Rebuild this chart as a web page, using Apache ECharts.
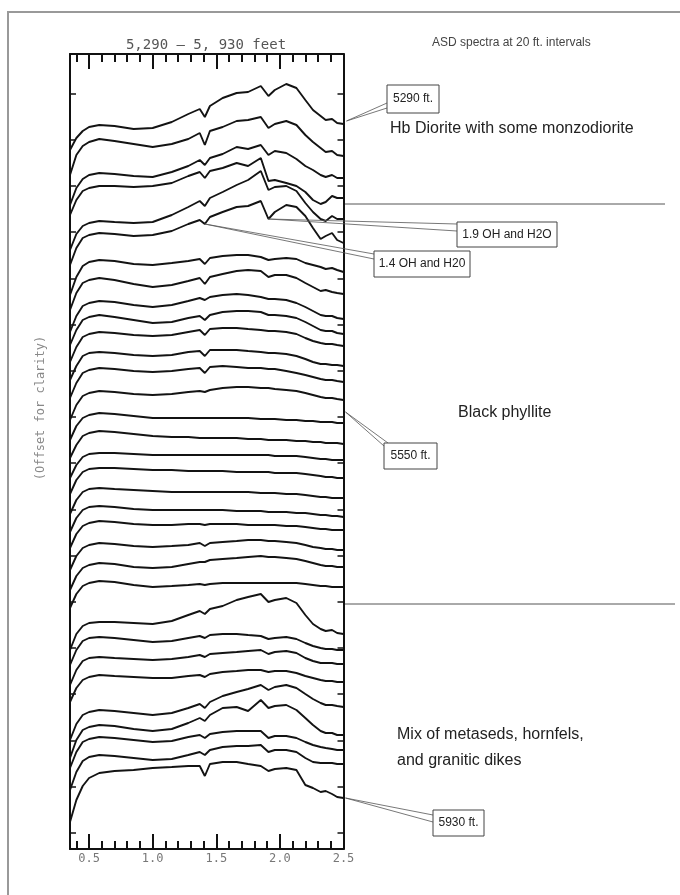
<!DOCTYPE html>
<html><head><meta charset="utf-8">
<script src="https://cdn.jsdelivr.net/npm/echarts@6/dist/echarts.min.js"></script>
<style>html,body{margin:0;padding:0;background:#fff}#c{width:680px;height:895px}</style>
</head><body><div id="c"></div>
<script>
// Wavelength (micrometres) at which each spectrum was read
const wavelengths = [0.35,0.40,0.45,0.50,0.58,0.70,0.85,1.00,1.15,1.28,1.37,1.41,1.45,1.55,1.66,1.75,1.85,1.91,1.96,2.05,2.13,2.20,2.26,2.32,2.36,2.41,2.45,2.50];
const xMajorTicks = [0.5,1.0,1.5,2.0,2.5];
const xMinorTicks = [0.4,0.6,0.7,0.8,0.9,1.1,1.2,1.3,1.4,1.6,1.7,1.8,1.9,2.1,2.2,2.3,2.4];
const yTicks = [16.3,62.5,108.7,154.9,201.1,247.3,293.5,339.7,385.9,432.1,478.3,524.5,570.7,616.9,663.1,709.3,755.5];
const depthsFt = [5290,5310,5330,5350,5370,5390,5410,5430,5450,5470,5490,5510,5530,5550,5570,5590,5610,5630,5650,5670,5690,5710,5730,5750,5770,5790,5810,5830,5850,5870,5890,5910,5930];

// Offset spectra (arbitrary offset units), one per depth
const d5290 = [699,711,718,722,724,723,720,721,727,735,740,732,743,751,756,757,763,753,759,765,761,749,739,733,729,730,726,725];
const d5310 = [674,694,703,707,710,708,705,702,705,710,716,704,718,722,728,729,732,721,725,728,724,714,707,701,697,698,694,693];
const d5330 = [644,661,670,674,676,675,673,672,677,683,689,684,691,695,702,700,704,694,698,696,690,683,679,674,672,674,671,671];
const d5350 = [634,649,658,661,663,663,662,663,666,673,677,671,678,681,686,683,691,668,669,666,663,657,649,645,647,653,651,651];
const d5370 = [599,615,623,626,628,627,626,627,634,642,648,643,651,657,664,669,678,659,662,663,658,646,637,630,628,633,630,630];
const d5390 = [584,601,611,614,616,615,613,614,618,625,629,625,632,637,642,643,648,630,637,644,642,633,621,610,613,616,609,606];
const d5410 = [554,572,583,587,589,588,585,584,586,588,590,585,591,593,594,594,592,589,590,591,590,586,584,582,580,581,579,577];
const d5430 = [539,556,566,569,571,569,565,562,564,568,571,565,572,575,578,579,578,572,574,574,571,566,562,558,559,557,556,555];
const d5450 = [517,533,543,546,548,547,544,542,544,548,551,549,552,554,555,554,552,550,550,549,546,542,538,534,533,533,531,530];
const d5470 = [504,519,529,532,534,532,529,526,527,531,533,529,534,537,538,538,537,534,534,533,531,527,523,519,518,518,516,515];
const d5490 = [487,502,512,515,517,516,514,513,514,517,519,514,520,521,521,520,519,518,518,517,515,511,508,506,505,505,504,503];
const d5510 = [469,483,493,496,497,496,494,493,494,497,498,493,499,499,499,498,497,496,496,495,493,490,487,485,485,484,484,483];
const d5530 = [451,466,476,479,481,480,478,477,478,480,481,476,482,483,482,481,481,480,480,478,476,474,472,470,469,469,468,467];
const d5550 = [429,444,453,456,458,457,455,454,455,457,458,457,459,461,462,462,461,461,460,459,458,456,454,452,451,451,450,449];
const d5570 = [409,423,431,434,436,435,433,431,431,431,431,431,431,431,431,431,430,430,430,429,429,428,428,427,427,427,426,426];
const d5590 = [391,404,413,416,418,417,415,413,412,412,411,411,411,411,411,410,410,409,409,409,408,408,407,407,406,406,406,405];
const d5610 = [371,384,392,395,396,396,395,394,394,394,394,394,394,394,394,394,394,394,393,393,393,392,391,390,390,389,389,389];
const d5630 = [355,369,377,380,381,381,380,379,379,378,378,378,378,378,377,377,377,377,376,376,376,375,374,373,372,372,371,371];
const d5650 = [335,349,357,360,361,360,359,358,357,357,357,357,357,357,357,357,356,356,356,355,355,354,353,352,352,351,351,351];
const d5670 = [317,331,339,342,343,342,340,339,339,339,339,339,339,339,338,338,338,337,337,337,336,336,335,334,334,333,333,332];
const d5690 = [301,315,323,326,328,327,325,324,324,325,325,324,325,325,325,324,324,324,324,323,323,322,321,320,320,319,319,319];
const d5710 = [279,293,301,304,306,305,303,302,303,304,306,303,306,307,308,309,309,308,308,307,306,304,302,301,300,300,299,299];
const d5730 = [259,273,281,284,286,285,282,281,282,285,287,287,289,290,291,292,293,292,292,291,290,288,286,284,283,283,282,282];
const d5750 = [241,255,263,266,268,267,264,262,263,264,265,264,265,266,266,266,266,266,266,266,266,265,264,263,263,262,262,262];
const d5770 = [199,215,223,226,227,227,226,225,228,234,238,235,240,243,249,252,255,247,249,251,246,234,225,220,218,219,216,215];
const d5790 = [184,199,208,211,212,211,209,207,208,211,213,211,214,215,215,214,213,210,211,212,210,206,203,201,200,200,199,199];
const d5810 = [164,179,188,191,192,191,190,189,190,192,194,192,195,196,197,198,199,195,197,198,196,191,188,186,186,186,185,185];
const d5830 = [147,161,169,172,174,173,172,171,171,173,174,172,175,177,178,179,179,177,178,178,176,173,171,169,168,168,167,167];
const d5850 = [109,125,134,137,139,138,136,134,136,141,145,141,147,153,157,160,164,159,162,164,161,155,150,146,144,144,143,142];
const d5870 = [91,109,119,122,124,123,120,118,120,126,131,128,134,141,142,138,149,141,143,144,139,131,124,118,116,116,114,114];
const d5890 = [81,97,107,110,112,111,109,107,108,112,114,111,115,117,118,118,118,111,113,113,111,107,104,102,101,100,99,99];
const d5910 = [59,77,88,92,94,93,91,89,90,94,97,94,99,102,103,103,104,97,99,99,97,91,87,86,86,86,85,85];
const d5930 = [27,49,63,71,76,78,79,81,82,83,83,73,85,87,87,85,83,78,80,81,79,64,61,57,58,55,52,51];

const spectra = [d5290,d5310,d5330,d5350,d5370,d5390,d5410,d5430,d5450,d5470,d5490,d5510,d5530,d5550,d5570,d5590,d5610,d5630,d5650,d5670,d5690,d5710,d5730,d5750,d5770,d5790,d5810,d5830,d5850,d5870,d5890,d5910,d5930];

const chart = echarts.init(document.getElementById('c'), null, {renderer: 'canvas'});
const X0 = 0.35, X1 = 2.5, Y0 = 0, Y1 = 795;
const mono = "'DejaVu Sans Mono', monospace";
const sans = "'Liberation Sans', Arial, sans-serif";

function xAx(pos, ticks, len, showLine, showLabel) {
  return {
    type: 'value', position: pos, min: X0, max: X1,
    axisLine: {show: showLine, onZero: false, lineStyle: {color: '#111', width: 2}},
    axisTick: {show: true, inside: true, length: len, customValues: ticks, lineStyle: {color: '#111', width: 2}},
    axisLabel: {show: showLabel, customValues: xMajorTicks, formatter: v => v.toFixed(1),
      color: '#777', fontFamily: mono, fontSize: 12, margin: 4},
    splitLine: {show: false}
  };
}
function yAx(pos) {
  return {
    type: 'value', position: pos, min: Y0, max: Y1,
    axisLine: {show: true, onZero: false, lineStyle: {color: '#111', width: 2}},
    axisTick: {show: true, inside: true, length: 6, customValues: yTicks, lineStyle: {color: '#111', width: 1.5}},
    axisLabel: {show: false},
    splitLine: {show: false}
  };
}

const series = spectra.map((arr, i) => ({
  name: depthsFt[i] + ' ft.',
  type: 'line', xAxisIndex: 0, yAxisIndex: 0,
  data: wavelengths.map((w, j) => [w, arr[j]]),
  showSymbol: false, silent: true, smooth: false,
  lineStyle: {color: '#131313', width: 1.9},
  z: 3
}));

chart.setOption({
  animation: false,
  backgroundColor: '#fff',
  grid: {left: 70, right: 336.5, top: 54, bottom: 46, containLabel: false},
  xAxis: [
    xAx('bottom', xMajorTicks, 15, true, true),
    xAx('bottom', xMinorTicks, 8, false, false),
    xAx('top', xMajorTicks, 15, true, false),
    xAx('top', xMinorTicks, 8, false, false)
  ],
  yAxis: [yAx('left'), yAx('right')],
  series: series
});

function px(w, v) { return chart.convertToPixel({xAxisIndex: 0, yAxisIndex: 0}, [w, v]); }
function box(x, y, w, h, text) {
  return [
    {type: 'rect', shape: {x: x, y: y, width: w, height: h}, style: {fill: '#fff', stroke: '#444', lineWidth: 1}, z: 10},
    {type: 'text', style: {text: text, x: x + w / 2, y: y + h / 2, align: 'center', verticalAlign: 'middle',
      textAlign: 'center', textVerticalAlign: 'middle', fontSize: 12, fontFamily: sans, fill: '#222'}, z: 11}
  ];
}
function leader(a, b1, b2) {
  return [
    {type: 'line', shape: {x1: a[0], y1: a[1], x2: b1[0], y2: b1[1]}, style: {stroke: '#555', lineWidth: 0.8}, z: 9},
    {type: 'line', shape: {x1: a[0], y1: a[1], x2: b2[0], y2: b2[1]}, style: {stroke: '#555', lineWidth: 0.8}, z: 9}
  ];
}
function label(text, x, y, size, fill) {
  return {type: 'text', style: {text: text, x: x, y: y, fontSize: size, fontFamily: sans, fill: fill || '#222',
    verticalAlign: 'middle', textVerticalAlign: 'middle'}, z: 11};
}

const aTop = px(2.5, d5290[27]);
const a19 = px(1.91, d5390[17]);
const a14 = px(1.41, d5390[11]);
const a5550 = px(2.5, 437);
const aBot = px(2.5, d5930[27]);

const g = [];
g.push({type: 'polyline', shape: {points: [[8, 900], [8, 12], [690, 12]]}, style: {stroke: '#999', lineWidth: 2, fill: null}, z: 1});
g.push({type: 'text', style: {text: '5,290 \u2013 5, 930 feet', x: 206, y: 45, align: 'center', verticalAlign: 'middle',
  textAlign: 'center', textVerticalAlign: 'middle', fontSize: 14, fontFamily: mono, fill: '#555'}, z: 11});
g.push(label('ASD spectra at 20 ft. intervals', 432, 43, 12, '#444'));
g.push(label('Hb Diorite with some monzodiorite', 390, 129, 16));
g.push(label('Black phyllite', 458, 413, 16));
g.push(label('Mix of metaseds, hornfels,', 397, 735, 16));
g.push(label('and granitic dikes', 397, 761, 16));
g.push({type: 'text', rotation: Math.PI / 2, x: 41, y: 408,
  style: {text: '(Offset for clarity)', x: 0, y: 0, align: 'center', verticalAlign: 'middle',
    textAlign: 'center', textVerticalAlign: 'middle', fontSize: 12, fontFamily: mono, fill: '#888'}, z: 11});
// separators
g.push({type: 'line', shape: {x1: 345, y1: 204, x2: 665, y2: 204}, style: {stroke: '#555', lineWidth: 1}, z: 5});
g.push({type: 'line', shape: {x1: 345, y1: 604, x2: 675, y2: 604}, style: {stroke: '#555', lineWidth: 1}, z: 5});
// callouts
g.push(...leader([aTop[0] + 3, aTop[1] - 3], [387, 103], [387, 108]));
g.push(...box(387, 85, 52, 28, '5290 ft.'));
g.push(...leader(a19, [457, 224], [457, 231]));
g.push(...box(457, 222, 100, 25, '1.9 OH and H2O'));
g.push(...leader(a14, [374, 254], [374, 259]));
g.push(...box(374, 251, 96, 26, '1.4 OH and H20'));
g.push(...leader([a5550[0] + 2, a5550[1]], [384, 446], [388, 443]));
g.push(...box(384, 443, 53, 26, '5550 ft.'));
g.push(...leader([aBot[0] + 2, aBot[1]], [433, 815], [433, 822]));
g.push(...box(433, 810, 51, 26, '5930 ft.'));

chart.setOption({graphic: g});
</script></body></html>
